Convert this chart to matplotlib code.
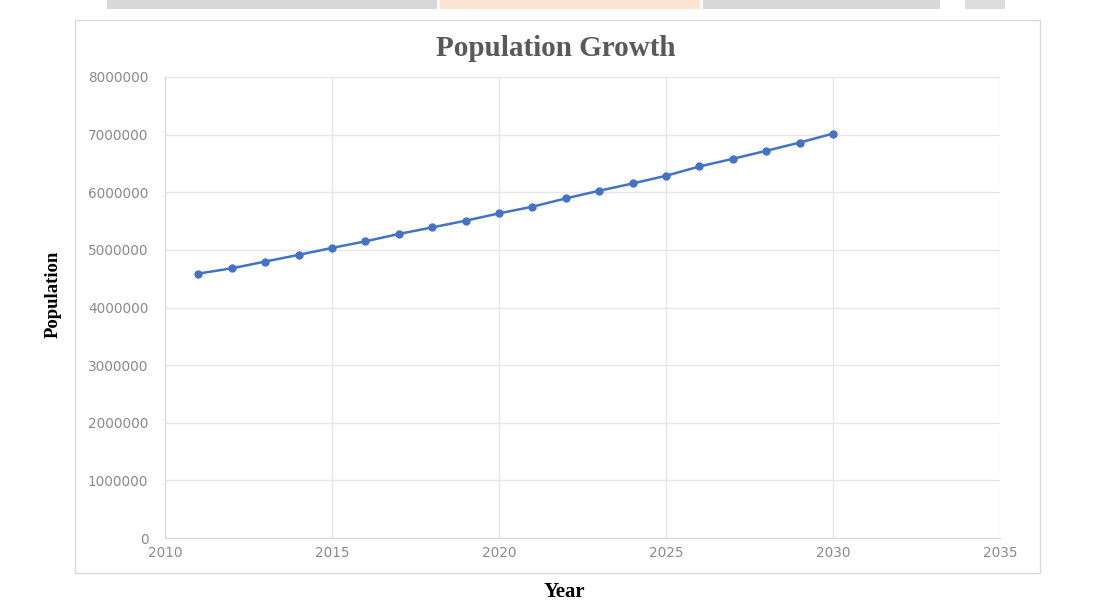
import numpy as np
import matplotlib.pyplot as plt
from matplotlib.patches import Rectangle

# data
years = [2011, 2012, 2013, 2014, 2015, 2016, 2017, 2018, 2019, 2020,
         2021, 2022, 2023, 2024, 2025, 2026, 2027, 2028, 2029, 2030]
population = [4589000, 4680000, 4797000, 4913000, 5034000, 5148000, 5276000,
              5390000, 5506000, 5633000, 5749000, 5893000, 6026000, 6152000,
              6286000, 6447000, 6580000, 6719000, 6862000, 7018000]
x_ticks = [2010, 2015, 2020, 2025, 2030, 2035]
y_ticks = [0, 1000000, 2000000, 3000000, 4000000, 5000000, 6000000, 7000000, 8000000]

W, H = 1097, 603
fig = plt.figure(figsize=(W / 100, H / 100), dpi=100)
fig.patch.set_facecolor('white')

def fx(px):
    return px / W

def fy(py):
    return 1 - py / H

# strip at the top (cut from the page header)
for x0, x1, c in [(107, 437, '#d8d8d8'), (440, 700, '#fbe3cf'),
                  (703, 940, '#d8d8d8'), (965, 1005, '#dcdcdc')]:
    fig.patches.append(Rectangle((fx(x0), fy(9)), fx(x1) - fx(x0), fy(0) - fy(9),
                                 transform=fig.transFigure, facecolor=c,
                                 edgecolor='none', zorder=0))

# chart box border
fig.patches.append(Rectangle((fx(75), fy(573)), fx(1040) - fx(75), fy(20) - fy(573),
                             transform=fig.transFigure, facecolor='none',
                             edgecolor='#d9d9d9', lw=1, zorder=0))

ax = fig.add_axes([fx(165), fy(538), fx(1000) - fx(165), fy(77) - fy(538)])
ax.set_zorder(2)
ax.set_facecolor('none')

ax.plot(years, population, color='#4472c4', lw=1.8, marker='o', ms=5,
        markerfacecolor='#4472c4', markeredgecolor='#4472c4', zorder=3)

ax.set_xlim(2010, 2035)
ax.set_ylim(0, 8000000)
ax.set_xticks(x_ticks)
ax.set_yticks(y_ticks)
ax.set_xticklabels([str(v) for v in x_ticks])
ax.set_yticklabels([str(v) for v in y_ticks])
ax.tick_params(axis='both', length=0, labelsize=9.8, labelcolor='#8a8a8a')
ax.tick_params(axis='x', pad=6)
ax.tick_params(axis='y', pad=12)

ax.grid(True, color='#e6e6e6', lw=1)
ax.set_axisbelow(True)
for s in ['top', 'right']:
    ax.spines[s].set_visible(False)
for s in ['left', 'bottom']:
    ax.spines[s].set_color('#d9d9d9')

fig.text(fx(556), fy(49), 'Population Growth', ha='center', va='center',
         fontsize=21, fontweight='bold', family='Liberation Serif', color='#595959')
fig.text(fx(53), fy(294), 'Population', ha='center', va='center', rotation=90,
         fontsize=13.5, fontweight='bold', family='Liberation Serif', color='black')
fig.text(fx(564), fy(592), 'Year', ha='center', va='center',
         fontsize=15, fontweight='bold', family='Liberation Serif', color='black')

fig.savefig('out.png', dpi=100)
